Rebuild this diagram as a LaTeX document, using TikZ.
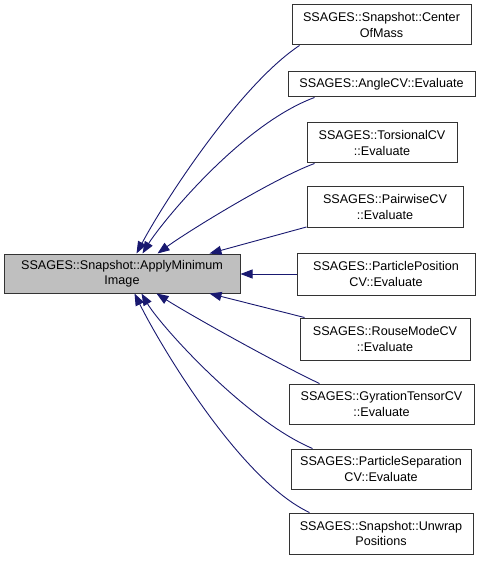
\documentclass[tikz,border=0pt]{standalone}
\usepackage{fontspec}
\setmainfont{Liberation Sans}
\usetikzlibrary{arrows.meta,calc}
\definecolor{edgeblue}{HTML}{191970}
\definecolor{boxgray}{HTML}{BFBFBF}
\begin{document}
\begin{tikzpicture}[x=1pt,y=-1pt,
  box/.style={draw=black!80,line width=1pt,inner sep=0pt,align=center,
    font=\fontsize{12.6}{15.5}\selectfont},
  edge/.style={draw=edgeblue,line width=0.9pt,-{Triangle[length=12pt,width=9pt]}}]
\useasboundingbox (0,0) rectangle (489,561);
\node[box,fill=boxgray,minimum width=236,minimum height=39] (main) at (122,273.5) {SSAGES::Snapshot::ApplyMinimum\\Image};
\node[box,minimum width=179,minimum height=40] (com) at (381.5,25) {SSAGES::Snapshot::Center\\OfMass};
\node[box,minimum width=187,minimum height=25] (ang) at (381.5,84.5) {SSAGES::AngleCV::Evaluate};
\node[box,minimum width=150,minimum height=40] (tor) at (382,143) {SSAGES::TorsionalCV\\::Evaluate};
\node[box,minimum width=156,minimum height=41] (pair) at (385,207) {SSAGES::PairwiseCV\\::Evaluate};
\node[box,minimum width=178,minimum height=42] (pp) at (386,274) {SSAGES::ParticlePosition\\CV::Evaluate};
\node[box,minimum width=170,minimum height=42] (rou) at (385,339) {SSAGES::RouseModeCV\\::Evaluate};
\node[box,minimum width=185,minimum height=40] (gyr) at (381.5,404) {SSAGES::GyrationTensorCV\\::Evaluate};
\node[box,minimum width=180,minimum height=40] (sep) at (381,469) {SSAGES::ParticleSeparation\\CV::Evaluate};
\node[box,minimum width=184,minimum height=41] (unw) at (381,533.5) {SSAGES::Snapshot::Unwrap\\Positions};
% edges
\draw[edge] ($(com.south west)+(8,0)$) .. controls (240,85) and (165,200) .. ($(main.north west)+(133,0)$);
\draw[edge] ($(ang.south west)+(27,0)$) .. controls (240,125) and (160,225) .. ($(main.north west)+(139,0)$);
\draw[edge] ($(tor.south west)+(8,0)$) .. controls (275,178) and (190,230) .. ($(main.north west)+(154,0)$);
\draw[edge] ($(pair.south west)+(0,-1)$) -- ($(main.north west)+(206,0)$);
\draw[edge] (pp.west) -- (pp.west -| main.east);
\draw[edge] ($(rou.north west)+(5,0)$) -- ($(main.south west)+(206,0)$);
\draw[edge] ($(gyr.north west)+(31,0)$) .. controls (280,365) and (190,315) .. ($(main.south west)+(153,0)$);
\draw[edge] ($(sep.north west)+(22,0)$) .. controls (245,420) and (160,325) .. ($(main.south west)+(138,0)$);
\draw[edge] ($(unw.north west)+(21,0)$) .. controls (240,480) and (160,345) .. ($(main.south west)+(131,0)$);
\end{tikzpicture}
\end{document}
